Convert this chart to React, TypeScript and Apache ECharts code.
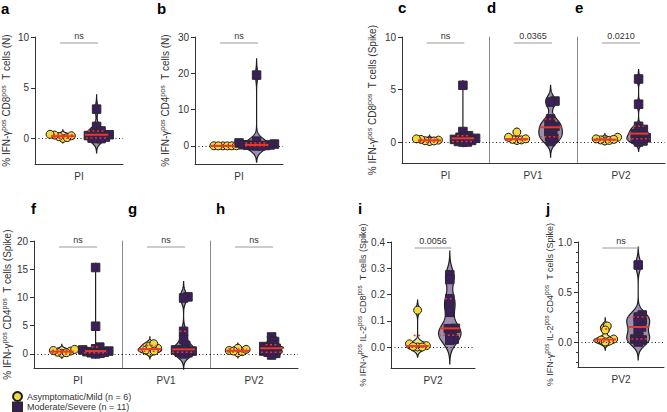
import React, { useEffect, useRef } from 'react';
import * as echarts from 'echarts';

const FONT = '"Liberation Sans", Arial, Helvetica, sans-serif';

// ---------- data ----------
const groupNames = ['Asymptomatic/Mild (n = 6)', 'Moderate/Severe (n = 11)'];

const aMild = [0.02, 0.1, 0.2, 0.28, 0.35, 0.42];
const aMod = [2.9, 1.2, 0.75, 0.5, 0.42, 0.38, 0.3, 0.15, 0.05, 0.0, 0.0];
const bMild = [0.0, 0.0, 0.01, 0.02, 0.0, 0.03];
const bMod = [19.5, 1.3, 0.8, 0.5, 0.3, 0.25, 0.2, 0.1, 0.05, 0.0, 0.0];
const cMild = [0.05, 0.12, 0.18, 0.25, 0.3, 0.1];
const cMod = [5.4, 1.0, 0.6, 0.45, 0.4, 0.35, 0.25, 0.15, 0.05, 0.0, 0.0];
const dMild = [0.15, 0.2, 0.25, 0.3, 0.45, 0.95];
const dMod = [3.9, 3.8, 2.2, 1.8, 1.5, 1.4, 1.0, 0.8, 0.5, 0.35, 0.05];
const eMild = [0.1, 0.15, 0.2, 0.3, 0.45, 0.25];
const eMod = [6.0, 3.6, 1.5, 1.2, 1.0, 0.8, 0.55, 0.4, 0.3, 0.1, 0.0];
const fMild = [0.1, 0.3, 0.5, 0.6, 0.8, 0.2];
const fMod = [15.3, 4.9, 1.2, 0.9, 0.7, 0.5, 0.4, 0.3, 0.2, 0.1, 0.0];
const gMild = [0.3, 0.7, 1.0, 1.4, 1.8, 0.5];
const gMod = [10.1, 9.9, 4.0, 2.6, 1.5, 0.8, 0.7, 0.5, 0.3, 0.2, 0.0];
const hMild = [0.2, 0.4, 0.6, 0.8, 1.0, 0.5];
const hMod = [3.0, 2.2, 1.6, 1.3, 1.1, 1.0, 0.7, 0.5, 0.3, 0.1, -0.2];
const iMild = [0.14, 0.012, 0.005, 0.0, 0.002, 0.0];
const iMod = [0.275, 0.257, 0.184, 0.165, 0.132, 0.071, 0.07, 0.06, 0.045, 0.03, 0.026];
const jMild = [0.16, 0.12, 0.03, 0.02, 0.01, 0.0];
const jMod = [0.77, 0.27, 0.25, 0.22, 0.2, 0.15, 0.12, 0.05, 0.03, 0.02, 0.0];

const ticksNCD8 = [0, 5, 10];
const ticksNCD4 = [0, 10, 20, 30];
const ticksSpikeCD8 = [0, 5, 10];
const ticksSpikeCD4 = [0, 5, 10, 15, 20];
const ticksIL2CD8 = [0, 0.1, 0.2, 0.3, 0.4];
const ticksIL2CD4 = [0, 0.5, 1.0];
const minorIL2CD4 = [-0.2, -0.1, 0.1, 0.2, 0.3, 0.4, 0.6, 0.7, 0.8, 0.9];

const sigTexts = ['ns', 'ns', 'ns', '0.0365', '0.0210', 'ns', 'ns', 'ns', '0.0056', 'ns'];
const xLabels = ['PI', 'PI', 'PI', 'PV1', 'PV2', 'PI', 'PV1', 'PV2', 'PV2', 'PV2'];

const yNames = {
  a: '{n|% IFN-γ}{s|pos}{n| CD8}{s|pos}{n|  T cells (N)}',
  b: '{n|% IFN-γ}{s|pos}{n| CD4}{s|pos}{n|  T cells (N)}',
  c: '{n|% IFN-γ}{s|pos}{n| CD8}{s|pos}{n|  T cells (Spike)}',
  f: '{n|% IFN-γ}{s|pos}{n| CD4}{s|pos}{n|  T cells (Spike)}',
  i: '{n|% IFN-γ}{s|pos}{n| IL-2}{s|pos}{n| CD8}{s|pos}{n|  T cells (Spike)}',
  j: '{n|% IFN-γ}{s|pos}{n| IL-2}{s|pos}{n| CD4}{s|pos}{n|  T cells (Spike)}',
};

// ---------- style / layout ----------
const YELLOW = '#F5D93A';
const YELLOW_V = '#F3E68E';
const PURPLE = '#3C1D5E';
const PURPLE_V = '#9C8EB0';
const RED = '#E8392B';
const G1 = 0.95;
const G2 = 2.1;
const HW = 0.4;
const SWARM_D = 4.5;

type Panel = {
  id: string; left: number; top: number; width: number; height: number;
  yMin: number; yMax: number; ticks: number[]; minor?: number[]; dec: number;
  mild: number[]; mod: number[]; bw: [number, number]; divider?: boolean; yName?: string;
  nameGap?: number; nameSize?: number;
};

const PANELS: Panel[] = [
  { id: 'a', left: 35, top: 37, width: 88, height: 127, yMin: -2.5, yMax: 10, ticks: ticksNCD8, dec: 0, mild: aMild, mod: aMod, bw: [0.15, 0.47], yName: yNames.a, nameGap: 22 },
  { id: 'b', left: 195, top: 37, width: 88, height: 127, yMin: -5, yMax: 30, ticks: ticksNCD4, dec: 0, mild: bMild, mod: bMod, bw: [0.3, 1.5], yName: yNames.b, nameGap: 23 },
  { id: 'c', left: 402, top: 37, width: 87, height: 126, yMin: -2, yMax: 10, ticks: ticksSpikeCD8, dec: 0, mild: cMild, mod: cMod, bw: [0.12, 0.15], yName: yNames.c, nameGap: 23 },
  { id: 'd', left: 489, top: 37, width: 88, height: 126, yMin: -2, yMax: 10, ticks: ticksSpikeCD8, dec: 0, mild: dMild, mod: dMod, bw: [0.12, 0.5], divider: true },
  { id: 'e', left: 577, top: 37, width: 88, height: 126, yMin: -2, yMax: 10, ticks: ticksSpikeCD8, dec: 0, mild: eMild, mod: eMod, bw: [0.12, 0.3], divider: true },
  { id: 'f', left: 34, top: 241, width: 88, height: 127, yMin: -2.5, yMax: 20, ticks: ticksSpikeCD4, dec: 0, mild: fMild, mod: fMod, bw: [0.3, 0.25], yName: yNames.f, nameGap: 20 },
  { id: 'g', left: 122, top: 241, width: 88, height: 127, yMin: -2.5, yMax: 20, ticks: ticksSpikeCD4, dec: 0, mild: gMild, mod: gMod, bw: [0.4, 0.9], divider: true },
  { id: 'h', left: 210, top: 241, width: 88, height: 127, yMin: -2.5, yMax: 20, ticks: ticksSpikeCD4, dec: 0, mild: hMild, mod: hMod, bw: [0.3, 0.2], divider: true },
  { id: 'i', left: 391, top: 242, width: 84, height: 126, yMin: -0.08, yMax: 0.4, ticks: ticksIL2CD8, dec: 1, mild: iMild, mod: iMod, bw: [0.013, 0.03], yName: yNames.i, nameGap: 20, nameSize: 9 },
  { id: 'j', left: 578, top: 242, width: 86, height: 125, yMin: -0.25, yMax: 1.0, ticks: ticksIL2CD4, minor: minorIL2CD4, dec: 1, mild: jMild, mod: jMod, bw: [0.027, 0.06], yName: yNames.j, nameGap: 20, nameSize: 9 },
];

const LETTERS: [string, number, number][] = [
  ['a', 1, 8], ['b', 157, 8], ['c', 398, 7], ['d', 487, 7], ['e', 575, 7],
  ['f', 31, 208], ['g', 128, 208], ['h', 216, 208], ['i', 358, 208], ['j', 546, 208],
];

// ---------- helpers ----------
function kde(vals: number[], h: number, y: number) {
  let s = 0;
  for (const v of vals) { const z = (y - v) / h; s += Math.exp(-0.5 * z * z); }
  return s;
}
function profile(vals: number[], h: number) {
  const lo = Math.min(...vals) - 3 * h;
  const hi = Math.max(...vals) + 3 * h;
  const N = 200;
  const ys: number[] = [];
  const ds: number[] = [];
  for (let i = 0; i <= N; i++) {
    const y = lo + ((hi - lo) * i) / N;
    ys.push(y);
    ds.push(kde(vals, h, y));
  }
  const mx = Math.max(...ds);
  return { ys, ws: ds.map((d) => d / mx), at: (y: number) => kde(vals, h, y) / mx };
}
function quantile(vals: number[], p: number) {
  const s = [...vals].sort((a, b) => a - b);
  const n = s.length;
  const pos = p * (n + 1);
  if (pos <= 1) return s[0];
  if (pos >= n) return s[n - 1];
  const i = Math.floor(pos);
  const f = pos - i;
  return s[i - 1] + f * (s[i] - s[i - 1]);
}
function swarm(vals: number[], pxY: number, d: number) {
  const idx = vals.map((_, i) => i).sort((a, b) => vals[a] - vals[b]);
  const placed: { x: number; y: number }[] = [];
  const out = new Array(vals.length).fill(0);
  for (const i of idx) {
    const y = vals[i] * pxY;
    const cands = [0];
    for (const p of placed) {
      const dy = Math.abs(p.y - y);
      if (dy < d) {
        const dx = Math.sqrt(d * d - dy * dy);
        cands.push(p.x + dx, p.x - dx);
      }
    }
    cands.sort((a, b) => Math.abs(a) - Math.abs(b) || b - a);
    let chosen = 0;
    for (const c of cands) {
      if (placed.every((p) => (p.x - c) ** 2 + (p.y - y) ** 2 >= d * d - 1e-6)) { chosen = c; break; }
    }
    placed.push({ x: chosen, y });
    out[i] = chosen;
  }
  return out;
}

function buildOption() {
  const grid: any[] = [];
  const xAxis: any[] = [];
  const yAxis: any[] = [];
  const series: any[] = [];

  PANELS.forEach((p, k) => {
    const ns = p.nameSize || 10;
    const rich = {
      n: { fontSize: ns, fontFamily: FONT, color: '#333', lineHeight: 13 },
      s: { fontSize: ns * 0.7, fontFamily: FONT, color: '#333', lineHeight: 7, verticalAlign: 'top' },
    };
    grid.push({ left: p.left, top: p.top, width: p.width, height: p.height, outerBoundsMode: 'none', containLabel: false });
    xAxis.push({
      gridIndex: k, type: 'value', min: 0, max: 3,
      axisLine: { show: true, onZero: false, lineStyle: { color: '#333', width: 1 } },
      axisTick: { show: false }, axisLabel: { show: false }, splitLine: { show: false },
      name: xLabels[k], nameLocation: 'middle', nameGap: 7,
      nameTextStyle: { fontSize: 10, color: '#333', fontFamily: FONT, verticalAlign: 'top' },
    });
    const yi = yAxis.length;
    yAxis.push({
      gridIndex: k, type: 'value', min: p.yMin, max: p.yMax,
      axisLine: { show: true, onZero: false, lineStyle: { color: p.divider ? '#8a8a8a' : '#333', width: 1 } },
      axisTick: { show: !p.divider, length: 4, customValues: p.ticks, lineStyle: { color: '#333' } },
      axisLabel: {
        show: !p.divider, customValues: p.ticks, margin: 6,
        formatter: (v: number) => v.toFixed(p.dec), fontSize: 10, color: '#333', fontFamily: FONT,
      },
      splitLine: { show: false },
      name: p.yName || '', nameLocation: 'middle', nameGap: p.nameGap || 23, nameRotate: 90,
      nameTextStyle: { rich, fontSize: ns, fontFamily: FONT, color: '#333' },
    });
    if (p.minor) {
      yAxis.push({
        gridIndex: k, type: 'value', min: p.yMin, max: p.yMax, position: 'left',
        axisLine: { show: false }, axisLabel: { show: false }, splitLine: { show: false },
        axisTick: { show: true, length: 2, customValues: p.minor, lineStyle: { color: '#333' } },
      });
    }

    const pxY = p.height / (p.yMax - p.yMin);
    const pxX = p.width / 3;
    const jm = swarm(p.mild, pxY, SWARM_D).map((v) => v / pxX);
    const jd = swarm(p.mod, pxY, SWARM_D).map((v) => v / pxX);

    const groupData = [[G1, 0, 0], [G2, 0, 1]];

    series.push({
      type: 'custom', xAxisIndex: k, yAxisIndex: yi, z: 1, silent: true,
      data: groupData, encode: { x: 0, y: 1 },
      renderItem: (_params: any, api: any) => {
        const gi = api.value(2);
        const gx = api.value(0);
        const vals = gi === 0 ? p.mild : p.mod;
        const pr = profile(vals, p.bw[gi]);
        const right = pr.ys.map((y, i) => api.coord([gx + pr.ws[i] * HW, y]));
        const left = pr.ys.map((y, i) => api.coord([gx - pr.ws[i] * HW, y])).reverse();
        return {
          type: 'polygon',
          shape: { points: right.concat(left) },
          style: { fill: gi === 0 ? YELLOW_V : PURPLE_V, stroke: '#1e1e1e', lineWidth: 1.2 },
        };
      },
    });

    series.push({
      type: 'scatter', name: groupNames[0], xAxisIndex: k, yAxisIndex: yi, z: 3,
      symbol: 'circle', symbolSize: 8,
      itemStyle: { color: YELLOW, borderColor: '#1e1e1e', borderWidth: 1, opacity: 1 },
      data: p.mild.map((v, i) => [G1 + jm[i], v]),
      markLine: {
        silent: true, symbol: ['none', 'none'], label: { show: false },
        lineStyle: { type: [1, 2.5], color: '#1e1e1e', width: 1 },
        data: [{ yAxis: 0 }],
      },
    });
    series.push({
      type: 'scatter', name: groupNames[1], xAxisIndex: k, yAxisIndex: yi, z: 3,
      symbol: 'rect', symbolSize: 8.5,
      itemStyle: { color: PURPLE, borderColor: '#2a2a2a', borderWidth: 1, opacity: 1 },
      data: p.mod.map((v, i) => [G2 + jd[i], v]),
    });

    series.push({
      type: 'custom', xAxisIndex: k, yAxisIndex: yi, z: 5, silent: true,
      data: groupData, encode: { x: 0, y: 1 },
      renderItem: (_params: any, api: any) => {
        const gi = api.value(2);
        const gx = api.value(0);
        const vals = gi === 0 ? p.mild : p.mod;
        const pr = profile(vals, p.bw[gi]);
        const children: any[] = [];
        ([[0.25, true], [0.5, false], [0.75, true]] as [number, boolean][]).forEach(([q, dashed]) => {
          const y = quantile(vals, q);
          const hw = Math.max(pr.at(y) * HW, 0.14);
          const a = api.coord([gx - hw, y]);
          const b = api.coord([gx + hw, y]);
          children.push({
            type: 'line',
            shape: { x1: a[0], y1: a[1], x2: b[0], y2: b[1] },
            style: { stroke: RED, lineWidth: dashed ? 1.5 : 2, lineDash: dashed ? [2, 2.5] : null },
          });
        });
        return { type: 'group', children };
      },
    });

    series.push({
      type: 'custom', xAxisIndex: k, yAxisIndex: yi, z: 5, silent: true,
      data: [[1.5, p.yMax]], encode: { x: 0, y: 1 },
      renderItem: (_params: any, api: any) => {
        const yb = p.yMax - (6 * (p.yMax - p.yMin)) / p.height;
        const a = api.coord([0.85, yb]);
        const b = api.coord([2.15, yb]);
        return {
          type: 'group',
          children: [
            { type: 'line', shape: { x1: a[0], y1: a[1], x2: b[0], y2: b[1] }, style: { stroke: '#9a9a9a', lineWidth: 1 } },
            {
              type: 'text', x: (a[0] + b[0]) / 2, y: a[1] - 3,
              style: {
                text: sigTexts[k], fill: '#333', font: `9px ${FONT}`,
                align: 'center', verticalAlign: 'bottom', textAlign: 'center', textVerticalAlign: 'bottom',
              },
            },
          ],
        };
      },
    });
  });

  const graphic = LETTERS.map(([t, x, y]) => ({
    type: 'text', x, y, silent: true,
    style: {
      text: t, fill: '#000', font: `bold 15px ${FONT}`,
      verticalAlign: 'middle', textVerticalAlign: 'middle', align: 'left', textAlign: 'left',
    },
  }));

  const legendBase = {
    orient: 'vertical', left: 12, padding: 0,
    itemWidth: 9, itemHeight: 9, selectedMode: false,
    textStyle: { fontSize: 9, color: '#333', fontFamily: FONT },
  };

  return {
    animation: false,
    backgroundColor: '#fff',
    grid, xAxis, yAxis, series, graphic,
    legend: [
      { ...legendBase, top: 391, data: [{ name: groupNames[0], icon: 'circle' }] },
      { ...legendBase, top: 401.5, data: [{ name: groupNames[1], icon: 'rect' }] },
    ],
  };
}

export default function App() {
  const ref = useRef<HTMLDivElement>(null);
  useEffect(() => {
    if (!ref.current) return;
    const chart = echarts.init(ref.current, null, { renderer: 'svg' });
    chart.setOption(buildOption() as any);
    return () => chart.dispose();
  }, []);
  return <div ref={ref} style={{ position: 'fixed', left: 0, top: 0, width: 667, height: 412 }} />;
}
